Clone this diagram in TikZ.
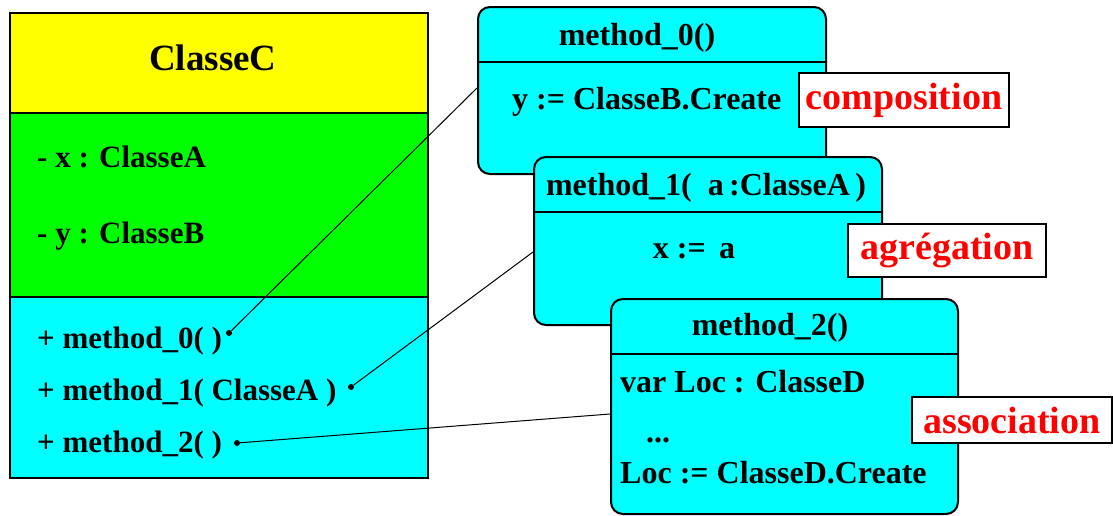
\documentclass[tikz,border=0pt]{standalone}
\usepackage{fontspec}
\setmainfont{Liberation Serif}
\usetikzlibrary{positioning}
\definecolor{BoxCyan}{RGB}{0, 255, 255}
\definecolor{BoxYellow}{RGB}{255, 255, 0}
\definecolor{BoxGreen}{RGB}{0, 255, 0}
\definecolor{TagRed}{RGB}{255, 0, 0}

\begin{document}
\begin{tikzpicture}[
    x=1pt, y=-1pt,
    part/.style={rectangle, draw=black, line width=2pt, inner sep=0pt, outer sep=0pt, minimum width=418pt},
    method/.style={rectangle, draw=black, fill=BoxCyan, line width=2pt, rounded corners=12pt, inner sep=0pt, anchor=north west},
    member/.style={font=\fontsize{31}{36}\selectfont\bfseries, inner sep=0pt, anchor=base west},
    code/.style={font=\fontsize{32}{36}\selectfont\bfseries, inner sep=0pt, anchor=base west},
    title/.style={font=\fontsize{32}{36}\selectfont\bfseries, inner sep=0pt, anchor=base},
    sep/.style={line width=2pt},
    tag/.style={rectangle, draw=black, fill=white, line width=2pt, text=TagRed, font=\fontsize{38}{42}\selectfont\bfseries, inner sep=0pt},
    dot/.style={circle, fill=black, inner sep=0pt, minimum size=6pt},
    link/.style={line width=1pt}
]
\useasboundingbox (0,0) rectangle (1113,515);

% ClasseC
\node[part, fill=BoxYellow, minimum height=100pt, anchor=north west] (head) at (10,13) {};
\node[part, fill=BoxGreen, minimum height=184pt, below=0pt of head] (attrs) {};
\node[part, fill=BoxCyan, minimum height=181pt, below=0pt of attrs] (ops) {};
\node[font=\fontsize{37}{42}\selectfont\bfseries, inner sep=0pt, anchor=base] (cname) at (213,70) {ClasseC};

% Attributes
\node[member] (ax) at (37,167) {- x : ClasseA};
\node[member] (ay) at (37,243) {- y : ClasseB};

% Operations
\node[member] (op0) at (37,348) {+ method\_0( )};
\node[member] (op1) at (37,400) {+ method\_1( ClasseA )};
\node[member] (op2) at (37,452) {+ method\_2( )};
\node[dot] (d0) at (229,333) {};
\node[dot] (d1) at (351,387) {};
\node[dot] (d2) at (237,443) {};

% Links
\coordinate (m0in) at (477,88);
\coordinate (m1in) at (533,252);
\coordinate (m2in) at (610,414);
\draw[link] (d0) -- (m0in);
\draw[link] (d1) -- (m1in);
\draw[link] (d2) -- (m2in);

% method_0
\node[method, minimum width=348pt, minimum height=167pt] (m0) at (477,6) {};
\draw[sep] ([yshift=-56pt]m0.north west) -- ([yshift=-56pt]m0.north east);
\node[title] (t0) at (637,45) {method\_0()};
\node[code] (b0) at (512,109) {y := ClasseB.Create};
\node[tag, minimum width=210pt, minimum height=54pt] (comp) at (904,100) {composition};

% method_1
\node[method, minimum width=348pt, minimum height=168pt] (m1) at (533,156) {};
\draw[sep] ([yshift=-56pt]m1.north west) -- ([yshift=-56pt]m1.north east);
\node[title] (t1) at (706,195) {method\_1(\ \ a\,:ClasseA\,)};
\node[title] (b1) at (694,258) {x := \,a};
\node[tag, minimum width=198pt, minimum height=53pt] (aggr) at (947,250) {agrégation};

% method_2
\node[method, minimum width=347pt, minimum height=215pt] (m2) at (610,298) {};
\draw[sep] ([yshift=-56pt]m2.north west) -- ([yshift=-56pt]m2.north east);
\node[title] (t2) at (770,335) {method\_2()};
\node[code] (b2a) at (620,392) {var Loc : ClasseD};
\node[code] (b2b) at (646,442) {...};
\node[code] (b2c) at (620,483) {Loc := ClasseD.Create};
\node[tag, minimum width=200pt, minimum height=46pt] (asso) at (1012,420) {association};

\end{tikzpicture}
\end{document}
